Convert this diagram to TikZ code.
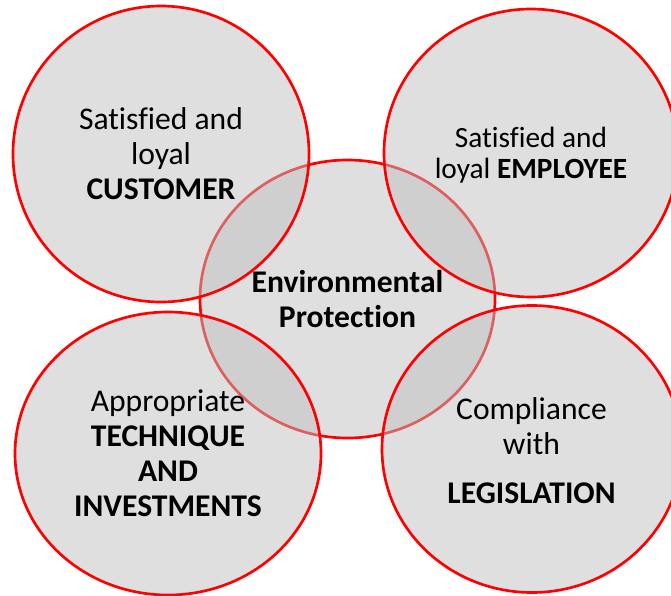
\documentclass[tikz,border=0pt]{standalone}
\usepackage{fontspec}
\setmainfont[Ligatures={NoCommon}]{Carlito}
\usepackage{tikz}
\usetikzlibrary{shapes.geometric}
\definecolor{discgray}{gray}{0.75}

\begin{document}
\begin{tikzpicture}[x=0.75pt, y=-0.75pt,
    disc/.style={ellipse, draw=red, line width=2pt, fill=discgray, fill opacity=0.5, draw opacity=1, inner sep=0pt, outer sep=0pt},
    txt/.style={align=center, text=black, font=\fontsize{23.7}{26.25}\selectfont},
    smalltxt/.style={align=center, text=black, font=\fontsize{22}{23.25}\selectfont}]
    \useasboundingbox (0,0) rectangle (671,596);

    %% Circles
    \node at (347.5,299) [disc, minimum width=221.25pt, minimum height=208.5pt](env){};
    \node at (161,154) [disc, minimum width=222pt, minimum height=222pt](cus){};
    \node at (531,153) [disc, minimum width=220.5pt, minimum height=216pt](emp){};
    \node at (168,453.5) [disc, minimum width=229.5pt, minimum height=212.25pt](tec){};
    \node at (532,449) [disc, minimum width=225pt, minimum height=215.25pt](leg){};

    %% Texts
    \node at (347.5,299.4) [txt](envtxt){\textbf{Environmental}\\\textbf{Protection}};
    \node at (161,153.5) [txt](custxt){Satisfied and\\loyal\\\textbf{CUSTOMER}};
    \node at (531,155.5) [smalltxt](emptxt){Satisfied and\\loyal \textbf{EMPLOYEE}};
    \node at (168,453) [txt](tectxt){Appropriate\\\textbf{TECHNIQUE}\\\textbf{AND}\\\textbf{INVESTMENTS}};
    \node at (531.5,450.5) [txt](legtxt){Compliance\\with\\[10.5pt]\textbf{LEGISLATION}};
\end{tikzpicture}
\end{document}
